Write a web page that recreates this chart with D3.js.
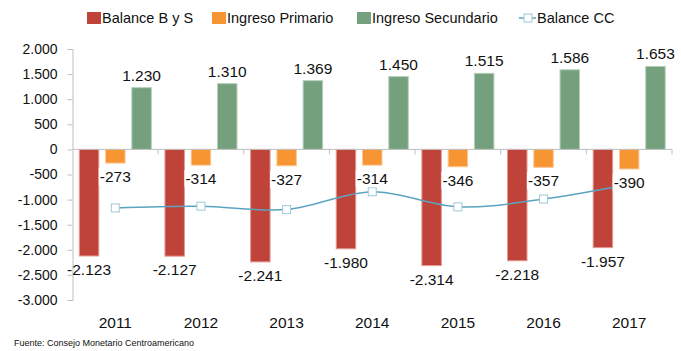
<!DOCTYPE html>
<html>
<head>
<meta charset="utf-8">
<script src="https://cdn.jsdelivr.net/npm/d3@7"></script>
<style>
  html, body { margin: 0; padding: 0; background: #fff; }
  svg { display: block; font-family: "Liberation Sans", Arial, sans-serif; }
</style>
</head>
<body>
<svg id="chart" width="681" height="351"></svg>
<script>
// Balanza de cuenta corriente por componente (millones)
const years = ["2011", "2012", "2013", "2014", "2015", "2016", "2017"];
const balanceBS = [-2123, -2127, -2241, -1980, -2314, -2218, -1957];
const ingresoPrimario = [-273, -314, -327, -314, -346, -357, -390];
const ingresoSecundario = [1230, 1310, 1369, 1450, 1515, 1586, 1653];
const balanceCC = [-1166, -1131, -1199, -844, -1145, -989, -694];
const yTicks = [2000, 1500, 1000, 500, 0, -500, -1000, -1500, -2000, -2500, -3000];

const seriesNames = ["Balance B y S", "Ingreso Primario", "Ingreso Secundario"];
const seriesValues = [balanceBS, ingresoPrimario, ingresoSecundario];
const fills = ["#C0433A", "#F79533", "#75A07D"];
const strokes = ["#E39A94", "#FBC998", "#B5CFBA"];
const lineColor = "#5BA4C1";
const markerStroke = "#9CC9DA";
const narrow = "'Liberation Sans Narrow', 'Arial Narrow', 'Liberation Sans', sans-serif";

const svg = d3.select("#chart");
// thousands separated by ".", plain hyphen for negatives
const fmt = v => d3.format(",")(v).replace(/,/g, ".").replace("\u2212", "-");

const x0 = d3.scaleBand().domain(years).range([72.5, 672]).padding(0);
const x1 = d3.scaleBand().domain(seriesNames).range([0, x0.bandwidth()])
  .paddingInner(0.22).paddingOuter(0.24);
const y = d3.scaleLinear().domain([-3000, 2000]).range([300, 49]);

// Y axis
const yAxis = svg.append("g").attr("transform", "translate(72.5,0)")
  .call(d3.axisLeft(y).tickValues(yTicks).tickSize(5).tickPadding(10).tickFormat(fmt));
yAxis.select(".domain").attr("stroke", "#BFBFBF");
yAxis.selectAll(".tick line").attr("stroke", "#BFBFBF");
yAxis.selectAll(".tick text").attr("font-size", 14).attr("fill", "#111")
  .attr("font-family", "'Liberation Sans', Arial, sans-serif");

// Bars
seriesValues.forEach((vals, s) => {
  svg.append("g").selectAll("rect").data(vals).join("rect")
    .attr("x", (d, i) => x0(years[i]) + x1(seriesNames[s]) + 0.5)
    .attr("width", x1.bandwidth() - 1)
    .attr("y", d => y(Math.max(0, d)))
    .attr("height", d => Math.abs(y(d) - y(0)))
    .attr("fill", fills[s])
    .attr("stroke", strokes[s])
    .attr("stroke-width", 1);
});

// X axis (category boundaries)
const xg = svg.append("g");
xg.append("line").attr("x1", x0.range()[0]).attr("x2", x0.range()[1])
  .attr("y1", y(0)).attr("y2", y(0)).attr("stroke", "#BFBFBF");
const bounds = years.map(d => x0(d)).concat([x0.range()[1]]).slice(1);
xg.selectAll("line.tk").data(bounds).join("line").attr("class", "tk")
  .attr("x1", d => d).attr("x2", d => d)
  .attr("y1", y(0)).attr("y2", y(0) + 5).attr("stroke", "#BFBFBF");

// Year labels
svg.append("g").selectAll("text").data(years).join("text")
  .attr("x", d => x0(d) + x0.bandwidth() / 2)
  .attr("y", 328)
  .attr("text-anchor", "middle")
  .attr("font-family", narrow)
  .attr("font-size", 15.5)
  .attr("fill", "#111")
  .text(d => d);

// Balance CC line
const cx = i => x0(years[i]) + x0.bandwidth() / 2;
const line = d3.line().x((d, i) => cx(i)).y(d => y(d)).curve(d3.curveCatmullRom.alpha(0.5));
svg.append("path").datum(balanceCC).attr("d", line)
  .attr("fill", "none").attr("stroke", lineColor).attr("stroke-width", 1.5);
svg.append("g").selectAll("rect").data(balanceCC).join("rect")
  .attr("x", (d, i) => cx(i) - 4).attr("y", d => y(d) - 4)
  .attr("width", 8).attr("height", 8)
  .attr("fill", "#fff").attr("stroke", markerStroke).attr("stroke-width", 1);

// Data labels
const labelG = svg.append("g").attr("font-size", 15.5).attr("fill", "#111")
  .attr("font-family", narrow);
seriesValues.forEach((vals, s) => {
  vals.forEach((v, i) => {
    const xc = x0(years[i]) + x1(seriesNames[s]) + x1.bandwidth() / 2;
    const yy = v >= 0 ? y(v) - 7 : y(v) + 19;
    const g = labelG.append("g");
    const t = g.append("text").attr("x", xc).attr("y", yy)
      .attr("text-anchor", "middle").text(fmt(v));
    if (s === 1) {
      const bb = t.node().getBBox();
      g.insert("rect", "text").attr("x", bb.x - 1).attr("y", bb.y)
        .attr("width", bb.width + 2).attr("height", bb.height).attr("fill", "#fff");
    }
  });
});

// Legend
const legendItems = [
  { name: "Balance B y S", type: "bar", color: fills[0], x: 87 },
  { name: "Ingreso Primario", type: "bar", color: fills[1], x: 212 },
  { name: "Ingreso Secundario", type: "bar", color: fills[2], x: 357 },
  { name: "Balance CC", type: "line", color: lineColor, x: 519 }
];
const lg = svg.append("g");
legendItems.forEach(it => {
  const g = lg.append("g").attr("transform", `translate(${it.x},0)`);
  if (it.type === "bar") {
    g.append("rect").attr("x", 0).attr("y", 12).attr("width", 14).attr("height", 12).attr("fill", it.color);
    g.append("text").attr("x", 15).attr("y", 23).attr("font-size", 14.5).attr("fill", "#111").text(it.name);
  } else {
    g.append("line").attr("x1", 0).attr("x2", 17).attr("y1", 18).attr("y2", 18)
      .attr("stroke", it.color).attr("stroke-width", 1.5);
    g.append("rect").attr("x", 5).attr("y", 14).attr("width", 8).attr("height", 8)
      .attr("fill", "#fff").attr("stroke", markerStroke);
    g.append("text").attr("x", 18).attr("y", 23).attr("font-size", 14.5).attr("fill", "#111").text(it.name);
  }
});

// Source note
svg.append("text").attr("x", 14).attr("y", 346).attr("font-size", 9).attr("fill", "#111")
  .attr("font-family", narrow)
  .text("Fuente:  Consejo Monetario Centroamericano");
</script>
</body>
</html>
